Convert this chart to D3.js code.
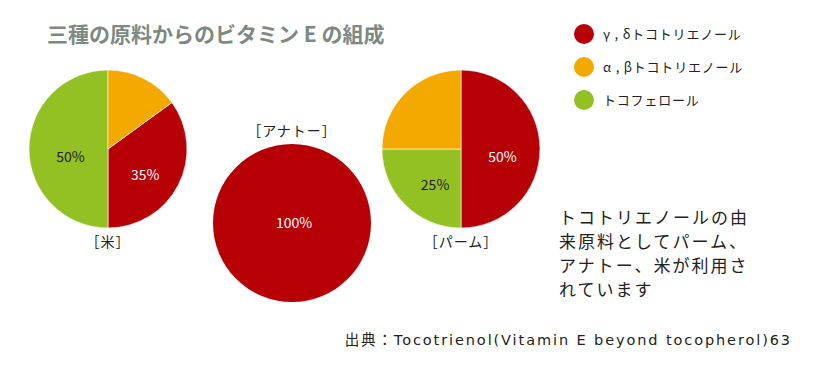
<!DOCTYPE html>
<html>
<head>
<meta charset="utf-8">
<script src="https://cdn.jsdelivr.net/npm/d3@7"></script>
<style>
  body { margin: 0; background: #fff; }
  svg { font-family: "Noto Sans CJK JP", "Noto Sans", sans-serif; }
</style>
</head>
<body>
<div id="chart"></div>
<script>
// データ
var categories = ["γ , δトコトリエノール", "α , βトコトリエノール", "トコフェロール"],
    sources = ["米", "アナトー", "パーム"],
    gammaDelta = [35, 100, 50],   // γ,δトコトリエノール (%)
    alphaBeta = [15, 0, 25],      // α,βトコトリエノール (%)
    tocopherol = [50, 0, 25];     // トコフェロール (%)

var width = 815, height = 370,
    colors = ["#b70006", "#f4a900", "#93c022"],
    labelColors = ["#fff", "#222", "#222"];

// 円グラフの配置
var layout = [
  {cx: 108, cy: 149, r: 79, start: 54, label: "below"},
  {cx: 292, cy: 223, r: 79, start: 0, label: "above"},
  {cx: 461, cy: 149, r: 79, start: 0, label: "below"}
];

var svg = d3.select("#chart")
            .append("svg")
            .attr("width", width)
            .attr("height", height);

// タイトル
svg.append("text")
   .attr("x", 47)
   .attr("y", 42)
   .attr("font-size", 21)
   .attr("font-weight", "bold")
   .attr("fill", "#7d8a81")
   .text("三種の原料からのビタミン E の組成");

// 凡例
var legend = svg.append("g").selectAll("g")
   .data(categories)
   .enter().append("g")
   .attr("transform", (d, i) => "translate(584," + (34 + i * 33) + ")");

legend.append("circle")
   .attr("r", 10)
   .attr("fill", (d, i) => colors[i]);

legend.append("text")
   .attr("x", 19)
   .attr("dy", "0.35em")
   .attr("font-size", 13)
   .attr("letter-spacing", 0.8)
   .attr("fill", "#222")
   .text(d => d);

// 円グラフ: 赤 → 緑 → 橙 の順で時計回り
var pie = d3.pie().sort(null).value(d => d.value);

sources.forEach(function (src, i) {
    var L = layout[i];
    var values = [
        {k: 0, value: gammaDelta[i]},
        {k: 2, value: tocopherol[i]},
        {k: 1, value: alphaBeta[i]}
    ].filter(d => d.value > 0);

    pie.startAngle(L.start * Math.PI / 180)
       .endAngle(L.start * Math.PI / 180 + 2 * Math.PI);

    var arc = d3.arc().innerRadius(0).outerRadius(L.r),
        labelArc = d3.arc().innerRadius(L.r * 0.5).outerRadius(L.r * 0.5);

    var g = svg.append("g")
       .attr("transform", "translate(" + L.cx + "," + L.cy + ")");

    var arcs = pie(values);

    g.selectAll("path")
     .data(arcs)
     .enter().append("path")
     .attr("d", arc)
     .attr("fill", d => colors[d.data.k])
     .attr("stroke", "#fff")
     .attr("stroke-width", arcs.length > 1 ? 0.6 : 0);

    // α,β の扇には数値を表示しない
    g.selectAll("text.pct")
     .data(arcs.filter(d => d.data.k !== 1))
     .enter().append("text")
     .attr("class", "pct")
     .attr("transform", function (d) {
         if (arcs.length === 1) return "translate(2,0)";
         var c = labelArc.centroid(d);
         return "translate(" + (c[0] + 2) + "," + (c[1] + 8) + ")";
     })
     .attr("text-anchor", "middle")
     .attr("dy", "0.35em")
     .attr("font-size", 14)
     .attr("fill", d => labelColors[d.data.k])
     .text(d => d.data.value + "%");

    g.append("text")
     .attr("y", L.label === "below" ? L.r + 14 : -L.r - 13)
     .attr("dy", "0.35em")
     .attr("text-anchor", "middle")
     .attr("font-size", 14)
     .attr("letter-spacing", 1)
     .attr("fill", "#222")
     .text("［" + src + "］");
});

// 注釈
var note = ["トコトリエノールの由", "来原料としてパーム、", "アナトー、米が利用さ", "れています"];
svg.append("g").selectAll("text")
   .data(note)
   .enter().append("text")
   .attr("x", 559)
   .attr("y", (d, i) => 218 + i * 24)
   .attr("dy", "0.35em")
   .attr("font-size", 17)
   .attr("letter-spacing", 2)
   .attr("fill", "#222")
   .text(d => d);

// 出典
svg.append("text")
   .attr("x", 792)
   .attr("y", 340)
   .attr("dy", "0.35em")
   .attr("text-anchor", "end")
   .attr("font-family", "'DejaVu Sans', 'Noto Sans CJK JP', sans-serif")
   .attr("font-size", 14.5)
   .attr("letter-spacing", 1.9)
   .attr("fill", "#222")
   .text("出典：Tocotrienol(Vitamin E beyond tocopherol)63");
</script>
</body>
</html>
